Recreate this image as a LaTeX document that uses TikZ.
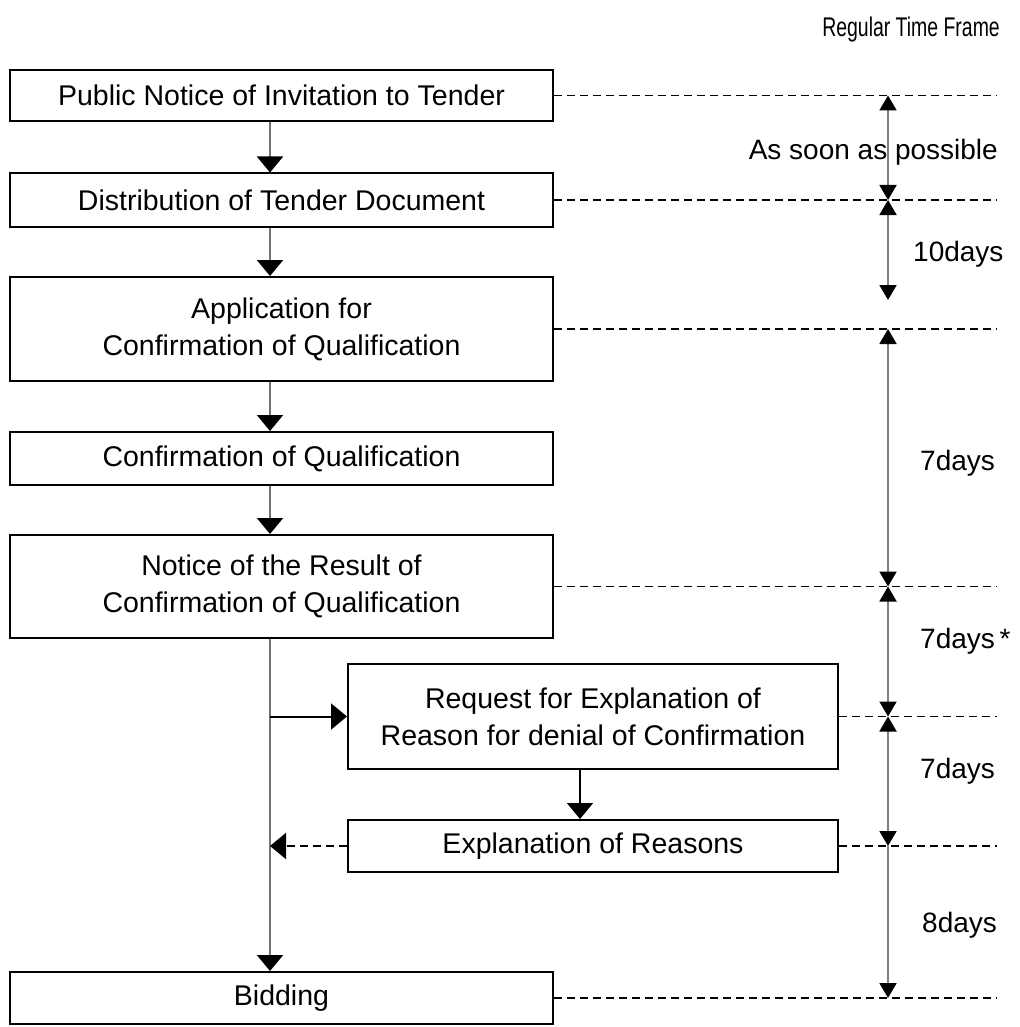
\documentclass[tikz,border=0pt]{standalone}
\usepackage{fontspec}
\setmainfont{Liberation Sans}
\newfontfamily\narrowfont[FakeStretch=0.72]{Liberation Sans}
\usetikzlibrary{arrows.meta}
\tikzstyle{box}=[draw,line width=2pt,minimum width=543pt,inner sep=0pt,align=center,font=\fontsize{28.5}{37}\selectfont]
\tikzstyle{days}=[inner sep=0pt,font=\fontsize{28}{34}\selectfont]
\tikzstyle{flow}=[-{Triangle[width=26pt,length=16pt,color=black]},draw=black!55,line width=2pt]
\tikzstyle{branch}=[-{Triangle[width=26pt,length=16pt]},line width=2pt]
\tikzstyle{guide}=[line width=1.8pt,dash pattern=on 8pt off 5pt]
\tikzstyle{span}=[{Triangle[width=17pt,length=15pt,color=black]}-{Triangle[width=17pt,length=15pt,color=black]},draw=black!50,line width=2pt]
\tikzstyle{spanend}=[-{Triangle[width=17pt,length=15pt,color=black]},draw=black!50,line width=2pt]

\begin{document}
\begin{tikzpicture}[x=1pt,y=-1pt]
\useasboundingbox (0,0) rectangle (1019,1027);
\node (pub) [box, minimum height=51pt]  at (281.5,95.5)  {Public Notice of Invitation to Tender};
\node (dist) [box, minimum height=53pt]  at (281.5,200)   {Distribution of Tender Document};
\node (appl) [box, minimum height=104pt] at (281.5,329)   {Application for\\Confirmation of Qualification};
\node (conf) [box, minimum height=53pt]  at (281.5,458.5) {Confirmation of Qualification};
\node (notice) [box, minimum height=103pt] at (281.5,586.5) {Notice of the Result of\\Confirmation of Qualification};
\node (req) [box, minimum width=490pt, minimum height=105pt] at (593,716.5) {Request for Explanation of\\Reason for denial of Confirmation};
\node (expl) [box, minimum width=490pt, minimum height=52pt] at (593,846) {Explanation of Reasons};
\node (bid) [box, minimum height=52pt]  at (281.5,998)   {Bidding};

\node (frame) [inner sep=0pt, anchor=east, font=\narrowfont\fontsize{27}{30}\selectfont] at (1000,30) {Regular Time Frame};
\node (soon) [days, anchor=east] at (998,152) {As soon as possible};
\node (ten) [days, anchor=west] at (913,254) {10days};
\node (sevena) [days, anchor=west] at (920,463) {7days};
\node (sevenb) [days, anchor=west] at (920,641) {7days\,*};
\node (sevenc) [days, anchor=west] at (920,771) {7days};
\node (eight) [days, anchor=west] at (922,925) {8days};

\coordinate (spine) at (270,0);
\coordinate (drop) at (580,0);
\coordinate (tl) at (888,0);
\coordinate (edge) at (997,0);
\coordinate (tenend) at (888,300);

% main flow
\draw [flow] (pub.south -| spine) -- (dist.north -| spine);
\draw [flow] (dist.south -| spine) -- (appl.north -| spine);
\draw [flow] (appl.south -| spine) -- (conf.north -| spine);
\draw [flow] (conf.south -| spine) -- (notice.north -| spine);
\draw [flow] (notice.south -| spine) -- (bid.north -| spine);
\draw [branch] (req.west -| spine) -- (req.west);
\draw [branch] (req.south -| drop) -- (expl.north -| drop);
\draw [branch, dash pattern=on 8pt off 5pt] (expl.west) -- (expl.west -| spine);

% time frame
\foreach \n in {pub,dist,appl,notice,req,expl,bid}
  \draw [guide] (\n.east) -- (\n.east -| edge);
\draw [span] (pub.east -| tl) -- (dist.east -| tl);
\draw [span] (dist.east -| tl) -- (tenend);
\draw [span] (appl.east -| tl) -- (notice.east -| tl);
\draw [span] (notice.east -| tl) -- (req.east -| tl);
\draw [span] (req.east -| tl) -- (expl.east -| tl);
\draw [spanend] (expl.east -| tl) -- (bid.east -| tl);
\end{tikzpicture}
\end{document}
